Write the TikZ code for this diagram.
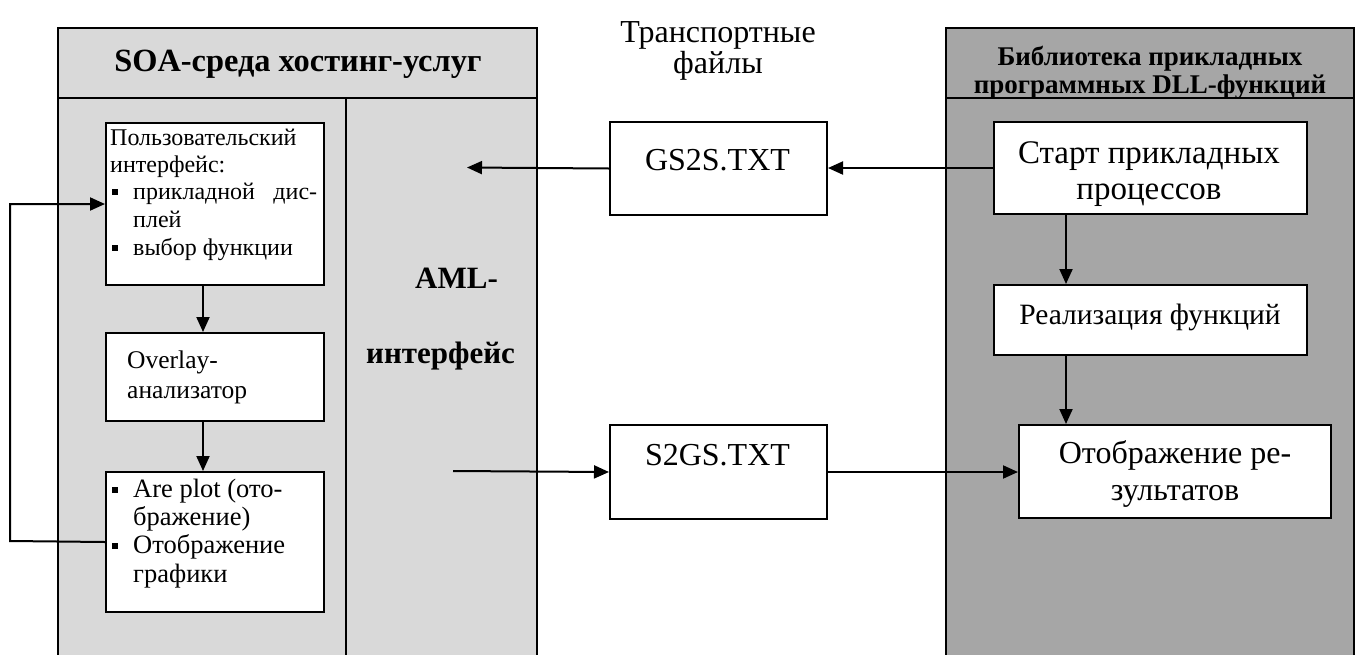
\documentclass[tikz,border=0pt]{standalone}
\usepackage{fontspec}
\setmainfont{Liberation Serif}
\usetikzlibrary{arrows.meta}
\definecolor{panelL}{HTML}{D9D9D9}
\definecolor{panelR}{HTML}{A6A6A6}
% small square list bullet followed by the item indent
\newcommand\sqb{\makebox[21pt][l]{\raisebox{4pt}{\rule{6pt}{6pt}}}}
\tikzset{
  frame/.style={draw=black, line width=2pt},
  wbox/.style={draw=black, fill=white, line width=2pt, inner sep=0pt, anchor=north west},
  arr/.style={line width=2pt, -{Triangle[length=15pt,width=13pt]}},
  lbl/.style={inner sep=0pt, anchor=base},
  lblw/.style={inner sep=0pt, anchor=base west},
  fitem/.style={font=\fontsize{24pt}{28pt}\selectfont},
  fplot/.style={font=\fontsize{26.5pt}{30pt}\selectfont},
  fov/.style={font=\fontsize{25.5pt}{30pt}\selectfont},
  fmid/.style={font=\fontsize{32pt}{38pt}\selectfont},
  fstart/.style={font=\fontsize{33pt}{38pt}\selectfont},
  ffile/.style={font=\fontsize{32pt}{38pt}\selectfont},
  fhead/.style={font=\fontsize{32.4pt}{38pt}\selectfont\bfseries},
  fheadR/.style={font=\fontsize{27pt}{32pt}\selectfont\bfseries},
  faml/.style={font=\fontsize{31pt}{37pt}\selectfont\bfseries},
}
\begin{document}
\begin{tikzpicture}[x=1pt,y=-1pt]
\clip (0,0) rectangle (1360,654);
\fill[white] (0,0) rectangle (1360,654);

% left panel: SOA hosting environment
\filldraw[frame, fill=panelL] (58,28) rectangle (537,680);
\draw[frame] (58,98) -- (537,98);
\draw[frame] (346,98) -- (346,680);
% right panel: DLL function library
\filldraw[frame, fill=panelR] (946,28) rectangle (1354,680);
\draw[frame] (946,98) -- (1354,98);

% headers
\node[lbl, fhead] (hL) at (298,71) {SOA-среда хостинг-услуг};
\node[lbl, fheadR] (hR1) at (1150,65) {Библиотека прикладных};
\node[lbl, fheadR] (hR2) at (1150,93) {программных DLL-функций};
\node[lbl, fmid] (tr1) at (718,42) {Транспортные};
\node[lbl, fmid] (tr2) at (718,73) {файлы};

% AML interface column
\node[lblw, faml] (aml1) at (415,288) {AML-};
\node[lblw, faml] (aml2) at (366,363) {интерфейс};

% boxes
\node[wbox, minimum width=218pt, minimum height=162pt] (ui) at (105,122) {};
\node[wbox, minimum width=218pt, minimum height=88pt]  (ov) at (105,332) {};
\node[wbox, minimum width=218pt, minimum height=140pt] (ap) at (105,471) {};
\node[wbox, minimum width=217pt, minimum height=93pt]  (gs) at (609,121) {};
\node[wbox, minimum width=217pt, minimum height=94pt]  (sg) at (609,424) {};
\node[wbox, minimum width=313pt, minimum height=92pt]  (st) at (993,121) {};
\node[wbox, minimum width=313pt, minimum height=70pt]  (re) at (993,284) {};
\node[wbox, minimum width=312pt, minimum height=93pt]  (ot) at (1018,424) {};

% user interface box
\node[lblw, fitem] (ui1) at (110,145) {Пользовательский};
\node[lblw, fitem] (ui2) at (110,172) {интерфейс:};
\node[lblw, fitem] (ui3) at (112,199) {\hbox to 205pt{\sqb прикладной\hfill дис-}};
\node[lblw, fitem] (ui4) at (133,227) {плей};
\node[lblw, fitem] (ui5) at (112,255) {\sqb выбор функции};

% overlay analyser box
\node[lblw, fov] (ov1) at (127,368) {Overlay-};
\node[lblw, fov] (ov2) at (127,398) {анализатор};

% plot box
\node[lblw, fplot] (ap1) at (112,497) {\sqb Are plot (ото-};
\node[lblw, fplot] (ap2) at (133,525) {бражение)};
\node[lblw, fplot] (ap3) at (112,553) {\sqb Отображение};
\node[lblw, fplot] (ap4) at (133,582) {графики};

% transport files
\node[lbl, ffile] (gst) at (717.5,170) {GS2S.TXT};
\node[lbl, ffile] (sgt) at (717.5,465) {S2GS.TXT};

% library boxes
\node[lbl, fstart] (st1) at (1149,163) {Старт прикладных};
\node[lbl, fstart] (st2) at (1149,199) {процессов};
\node[lbl, font=\fontsize{29.5pt}{34pt}\selectfont] (re1) at (1150,324) {Реализация функций};
\node[lbl, fmid] (ot1) at (1175,463) {Отображение ре-};
\node[lbl, fmid] (ot2) at (1175,500) {зультатов};

% connectors
\draw[arr] ([xshift=-12pt]ui.south) -- ([xshift=-12pt]ov.north);
\draw[arr] ([xshift=-12pt]ov.south) -- ([xshift=-12pt]ap.north);
\coordinate (lp) at (10,541);
\draw[arr] (ap.west) -- (lp) |- (ui.west);

\coordinate (gsend) at (467,167.5);
\draw[arr] (st.west) -- (st.west -| gs.east);
\draw[arr] (gs.west) -- (gsend);
\coordinate (sgstart) at (453,471);
\draw[arr] (sgstart) -- (sg.west);
\draw[arr] (sg.east) -- (sg.east -| ot.west);

\draw[arr] ([xshift=73pt]st.south west) -- ([xshift=73pt]st.south west |- re.north);
\draw[arr] ([xshift=73pt]re.south west) -- ([xshift=48pt]ot.north west);
\end{tikzpicture}
\end{document}
